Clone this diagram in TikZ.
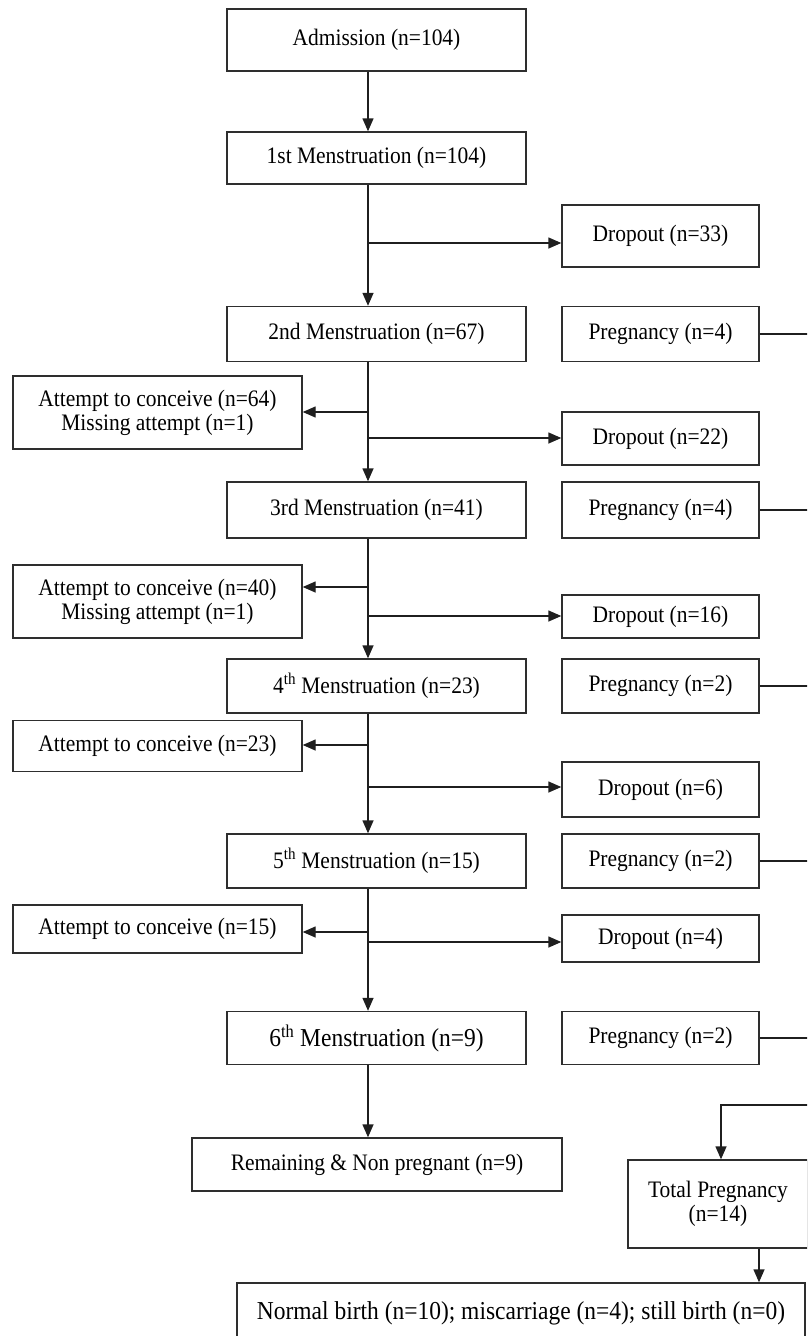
\documentclass[tikz,border=0pt]{standalone}
\usepackage{fontspec}
\setmainfont{Liberation Serif}[FakeStretch=0.91]
\usetikzlibrary{arrows.meta}
\begin{document}
\begin{tikzpicture}[x=1pt,y=-1pt,
  box/.style={draw=black!82, line width=1.4pt, fill=white, align=center, inner sep=0pt,
    font=\fontsize{23.6}{24}\selectfont},
  big/.style={font=\fontsize{25.8}{27}\selectfont},
  conn/.style={draw=black!88, line width=1.4pt},
  arr/.style={conn, -{Triangle[length=13pt,width=11pt]}}]
\useasboundingbox (0,0) rectangle (807,1336);
\fill[white] (0,0) rectangle (807,1336);
\clip (0,0) rectangle (807,1336);
% main column
\node[box, minimum width=299, minimum height=62] (adm) at (376.5,40) {Admission (n=104)};
\node[box, minimum width=299, minimum height=52] (m1) at (376.5,158) {1st Menstruation (n=104)};
\node[box, minimum width=299, minimum height=55] (m2) at (376.5,334) {2nd Menstruation (n=67)};
\node[box, minimum width=299, minimum height=56] (m3) at (376.5,510) {3rd Menstruation (n=41)};
\node[box, minimum width=299, minimum height=54] (m4) at (376.5,686) {4\textsuperscript{th} Menstruation (n=23)};
\node[box, minimum width=299, minimum height=54] (m5) at (376.5,861) {5\textsuperscript{th} Menstruation (n=15)};
\node[box, big, minimum width=299, minimum height=53] (m6) at (376.5,1038) {6\textsuperscript{th} Menstruation (n=9)};
\node[box, minimum width=370, minimum height=53] (rem) at (377,1164.5) {Remaining \& Non pregnant (n=9)};
% dropouts
\node[box, minimum width=197, minimum height=62] (d1) at (660.5,236) {Dropout (n=33)};
\node[box, minimum width=197, minimum height=53] (d2) at (660.5,438.5) {Dropout (n=22)};
\node[box, minimum width=197, minimum height=43] (d3) at (660.5,616.5) {Dropout (n=16)};
\node[box, minimum width=197, minimum height=55] (d4) at (660.5,789.5) {Dropout (n=6)};
\node[box, minimum width=197, minimum height=47] (d5) at (660.5,938.5) {Dropout (n=4)};
% pregnancies
\node[box, minimum width=197, minimum height=55] (p2) at (660.5,334) {Pregnancy (n=4)};
\node[box, minimum width=197, minimum height=56] (p3) at (660.5,510) {Pregnancy (n=4)};
\node[box, minimum width=197, minimum height=54] (p4) at (660.5,686) {Pregnancy (n=2)};
\node[box, minimum width=197, minimum height=54] (p5) at (660.5,861) {Pregnancy (n=2)};
\node[box, minimum width=197, minimum height=53] (p6) at (660.5,1038) {Pregnancy (n=2)};
% attempts
\node[box, minimum width=289, minimum height=73] (a2) at (157.5,412.5) {Attempt to conceive (n=64)\\Missing attempt (n=1)};
\node[box, minimum width=289, minimum height=73] (a3) at (157.5,601.5) {Attempt to conceive (n=40)\\Missing attempt (n=1)};
\node[box, minimum width=289, minimum height=51] (a4) at (157.5,746) {Attempt to conceive (n=23)};
\node[box, minimum width=289, minimum height=48] (a5) at (157.5,929) {Attempt to conceive (n=15)};
% totals
\node[box, minimum width=180, minimum height=88] (tot) at (718,1204) {Total Pregnancy\\(n=14)};
\node[box, big, minimum width=568, minimum height=60] (bot) at (521,1313) {Normal birth (n=10); miscarriage (n=4); still birth (n=0)};
% helper coordinates
\coordinate (sp) at (368,0);
\coordinate (R) at (815,0);
\coordinate (b1) at (368,243);
\coordinate (b2) at (368,438);
\coordinate (b3) at (368,616);
\coordinate (b4) at (368,787);
\coordinate (b5) at (368,942);
\coordinate (l2) at (368,412);
\coordinate (l3) at (368,587);
\coordinate (l4) at (368,745);
\coordinate (l5) at (368,932);
\coordinate (t1) at (721,1105);
\coordinate (c2) at (759,0);
% spine arrows
\draw[arr] (sp |- adm.south) -- (sp |- m1.north);
\draw[arr] (sp |- m1.south) -- (sp |- m2.north);
\draw[arr] (sp |- m2.south) -- (sp |- m3.north);
\draw[arr] (sp |- m3.south) -- (sp |- m4.north);
\draw[arr] (sp |- m4.south) -- (sp |- m5.north);
\draw[arr] (sp |- m5.south) -- (sp |- m6.north);
\draw[arr] (sp |- m6.south) -- (sp |- rem.north);
% dropout branches
\draw[arr] (b1) -- (b1 -| d1.west);
\draw[arr] (b2) -- (b2 -| d2.west);
\draw[arr] (b3) -- (b3 -| d3.west);
\draw[arr] (b4) -- (b4 -| d4.west);
\draw[arr] (b5) -- (b5 -| d5.west);
% attempt branches
\draw[arr] (l2) -- (l2 -| a2.east);
\draw[arr] (l3) -- (l3 -| a3.east);
\draw[arr] (l4) -- (l4 -| a4.east);
\draw[arr] (l5) -- (l5 -| a5.east);
% pregnancy lines to the right
\draw[conn] (p2.east) -- (p2.east -| R);
\draw[conn] (p3.east) -- (p3.east -| R);
\draw[conn] (p4.east) -- (p4.east -| R);
\draw[conn] (p5.east) -- (p5.east -| R);
\draw[conn] (p6.east) -- (p6.east -| R);
\draw[arr] (t1 -| R) -- (t1) -- (t1 |- tot.north);
\draw[arr] (c2 |- tot.south) -- (c2 |- bot.north);
\end{tikzpicture}
\end{document}
